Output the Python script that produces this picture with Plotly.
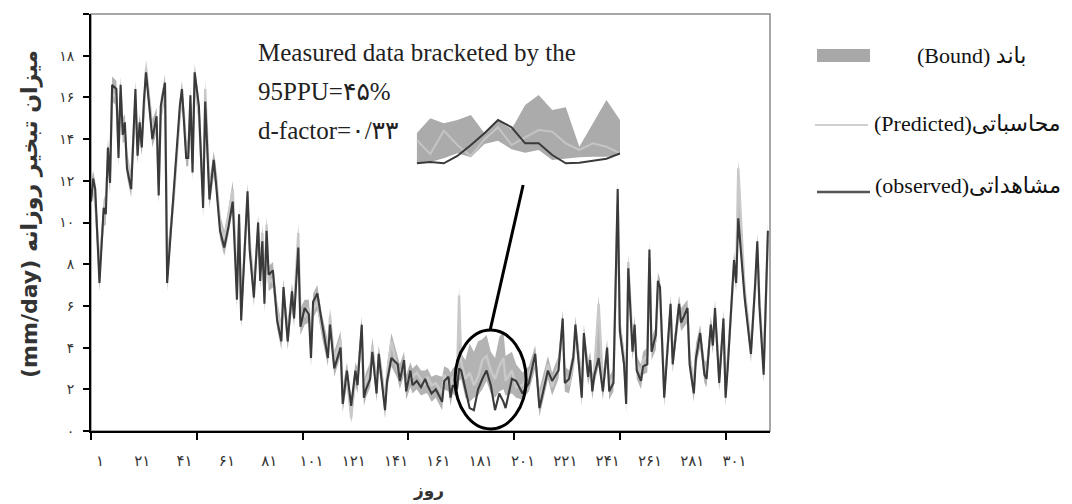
import plotly.graph_objects as go

# ---------------- data ----------------
days = [1, 2, 3, 5, 7, 8, 9, 10, 11, 13,
        14, 15, 16, 17, 18, 20, 22, 23, 24, 25,
        26, 27, 29, 30, 32, 33, 34, 36, 37, 40,
        43, 44, 45, 46, 47, 48, 49, 50, 52, 54,
        55, 56, 57, 59, 60, 62, 64, 66, 68, 70,
        71, 72, 75, 76, 78, 80, 81, 82, 83, 84,
        85, 87, 89, 91, 92, 94, 96, 97, 99, 100,
        102, 104, 105, 106, 108, 110, 113, 114, 116, 119,
        120, 122, 124, 126, 127, 129, 130, 131, 133, 134,
        136, 137, 138, 140, 141, 143, 146, 147, 149, 150,
        152, 153, 155, 157, 159, 160, 162, 164, 167, 168,
        170, 171, 172, 174, 175, 176, 178, 180, 182, 184,
        186, 188, 190, 192, 194, 196, 197, 200, 202, 205,
        208, 211, 213, 216, 217, 219, 222, 224, 225, 227,
        229, 230, 232, 233, 234, 236, 237, 238, 239, 241,
        243, 245, 246, 248, 250, 251, 253, 254, 255, 257,
        258, 259, 261, 262, 264, 265, 266, 268, 269, 270,
        272, 275, 276, 279, 280, 283, 284, 286, 287, 289,
        291, 292, 294, 295, 296, 297, 298, 300, 301, 302,
        305, 306, 307, 310, 313, 315, 316, 317, 319, 321]

observed = [11.0, 12.1, 11.6, 7.1, 10.7, 10.4, 13.6, 11.9, 16.6, 16.4,
            13.1, 16.6, 14.2, 14.8, 12.6, 11.6, 16.4, 13.2, 14.8, 13.6,
            15.8, 17.2, 15.1, 14.0, 15.1, 11.3, 15.6, 16.7, 7.1, 11.3,
            15.6, 16.4, 14.8, 13.1, 13.1, 16.1, 12.4, 17.2, 15.6, 10.7,
            15.8, 13.5, 11.1, 13.0, 12.0, 9.6, 8.8, 9.8, 11.0, 6.3,
            10.4, 5.3, 11.5, 8.7, 6.4, 10.0, 7.2, 9.1, 6.1, 9.6,
            7.5, 7.7, 5.3, 4.3, 6.9, 4.3, 6.7, 5.4, 8.8, 5.0,
            5.9, 5.6, 3.5, 6.2, 6.6, 5.3, 3.5, 5.1, 3.0, 4.0,
            1.3, 2.9, 1.2, 2.9, 2.2, 5.1, 1.6, 2.0, 2.5, 3.8,
            1.8, 3.7, 2.8, 1.0, 2.4, 3.5, 3.2, 2.4, 3.4, 1.9,
            2.9, 2.2, 2.4, 2.1, 2.5, 2.2, 1.8, 2.0, 1.4, 2.4,
            2.6, 1.6, 2.2, 2.0, 3.0, 2.9, 2.0, 1.1, 1.0, 2.0,
            2.5, 2.9, 2.2, 1.0, 1.8, 1.4, 1.1, 2.5, 2.4, 1.8,
            2.3, 3.7, 1.1, 2.4, 2.9, 2.4, 2.9, 5.4, 2.3, 2.5,
            3.5, 5.1, 2.9, 1.6, 4.7, 2.6, 3.4, 1.9, 2.7, 3.5,
            1.9, 4.0, 1.9, 2.3, 11.6, 4.8, 3.2, 1.3, 7.8, 3.8,
            5.1, 2.9, 2.4, 3.1, 3.2, 8.7, 3.8, 4.6, 7.2, 6.9,
            1.6, 6.1, 3.2, 6.1, 5.2, 5.9, 3.2, 1.8, 3.5, 4.7,
            2.7, 2.5, 5.1, 4.1, 5.9, 3.9, 2.3, 5.4, 1.6, 3.0,
            8.2, 7.1, 10.2, 6.4, 3.7, 7.1, 9.1, 6.0, 2.7, 9.6]

predicted = [11.5, 11.8, 10.9, 8.0, 10.2, 11.0, 13.0, 12.4, 16.2, 16.0,
             13.6, 16.2, 14.6, 14.3, 13.0, 12.0, 15.9, 13.7, 14.4, 14.0,
             15.3, 17.4, 15.5, 14.5, 14.7, 11.8, 15.2, 16.3, 8.0, 11.0,
             15.2, 16.0, 15.1, 13.5, 13.5, 15.7, 12.9, 16.8, 15.2, 11.2,
             16.4, 13.9, 11.6, 12.6, 12.4, 10.0, 9.2, 10.3, 11.6, 6.8,
             10.0, 5.9, 11.0, 9.1, 6.9, 9.6, 7.7, 9.5, 6.6, 9.9,
             7.1, 7.3, 5.8, 4.8, 6.5, 4.8, 6.3, 5.9, 9.5, 5.5,
             5.5, 5.9, 4.0, 5.8, 6.2, 5.0, 3.9, 5.5, 3.4, 4.4,
             1.7, 2.6, 0.6, 2.6, 2.6, 4.7, 2.0, 2.4, 2.9, 4.1,
             2.2, 3.4, 3.1, 1.4, 2.8, 4.3, 2.9, 2.8, 3.1, 2.3,
             2.6, 2.6, 2.8, 2.5, 2.2, 2.6, 2.2, 2.3, 1.8, 2.7,
             2.3, 2.0, 2.6, 2.4, 6.5, 3.3, 2.5, 2.8, 2.2, 2.6,
             3.4, 3.6, 2.9, 2.5, 3.1, 3.5, 2.4, 2.9, 2.1, 2.2,
             2.7, 3.4, 1.5, 2.7, 3.2, 2.1, 3.2, 5.0, 2.7, 2.2,
             3.2, 4.7, 3.3, 2.0, 4.4, 3.0, 3.1, 2.3, 3.0, 6.1,
             2.3, 3.7, 2.2, 2.6, 10.9, 5.1, 3.5, 1.7, 8.1, 4.2,
             4.8, 3.2, 2.8, 3.4, 3.6, 8.3, 4.1, 4.3, 6.8, 6.5,
             2.0, 5.8, 3.5, 5.8, 5.5, 5.6, 3.5, 2.2, 3.8, 4.4,
             3.0, 2.9, 4.8, 4.4, 5.6, 4.2, 2.6, 5.1, 2.0, 3.3,
             7.9, 7.4, 12.6, 6.8, 4.0, 6.8, 8.8, 6.3, 3.0, 9.2]

band_low = [10.6, 11.4, 10.5, 6.7, 9.8, 9.9, 12.6, 11.4, 15.8, 15.6,
            12.7, 15.8, 13.8, 13.9, 12.2, 11.2, 15.5, 12.8, 14.0, 13.2,
            14.9, 16.8, 14.7, 13.6, 14.3, 10.9, 14.8, 15.9, 6.7, 10.6,
            14.8, 15.6, 14.4, 12.7, 12.7, 15.3, 12.0, 16.4, 14.8, 10.3,
            15.0, 13.1, 10.7, 12.2, 11.6, 9.2, 8.4, 9.4, 10.6, 5.9,
            9.6, 4.9, 10.6, 8.3, 6.0, 9.2, 6.8, 8.7, 5.7, 9.2,
            6.7, 6.9, 4.9, 3.9, 6.1, 3.9, 5.9, 5.0, 8.4, 4.6,
            5.1, 5.2, 3.1, 5.4, 5.8, 4.6, 3.1, 4.7, 2.6, 3.6,
            0.9, 2.2, 0.4, 2.2, 1.8, 4.3, 1.2, 1.6, 2.1, 3.4,
            1.4, 3.0, 2.4, 0.6, 2.0, 3.1, 2.5, 2.0, 2.7, 1.5,
            2.1, 1.8, 2.0, 1.7, 1.8, 1.8, 1.4, 1.6, 1.0, 2.0,
            1.9, 1.2, 1.8, 1.6, 2.4, 2.5, 1.6, 1.4, 1.6, 1.7,
            2.0, 2.4, 1.8, 1.6, 1.9, 2.0, 1.7, 1.8, 1.6, 1.5,
            1.9, 3.0, 0.7, 2.0, 2.5, 1.7, 2.5, 4.6, 1.9, 1.8,
            2.8, 4.3, 2.5, 1.2, 4.0, 2.2, 2.7, 1.5, 2.3, 3.1,
            1.5, 3.3, 1.5, 1.9, 10.5, 4.4, 2.8, 0.9, 7.4, 3.4,
            4.4, 2.5, 2.0, 2.7, 2.8, 7.9, 3.4, 3.9, 6.4, 6.1,
            1.2, 5.4, 2.8, 5.4, 4.8, 5.2, 2.8, 1.4, 3.1, 4.0,
            2.3, 2.1, 4.4, 3.7, 5.2, 3.5, 1.9, 4.7, 1.2, 2.6,
            7.5, 6.7, 9.8, 6.0, 3.3, 6.4, 8.4, 5.6, 2.3, 8.8]

band_high = [11.9, 12.5, 12.0, 8.4, 11.1, 11.4, 14.0, 12.8, 17.0, 16.8,
             14.0, 17.0, 15.0, 15.2, 13.4, 12.4, 16.8, 14.1, 15.2, 14.4,
             16.2, 17.8, 15.9, 14.9, 15.5, 12.2, 16.0, 17.1, 8.4, 11.7,
             16.0, 16.8, 15.5, 13.9, 13.9, 16.5, 13.3, 17.6, 16.0, 11.6,
             16.8, 14.3, 12.0, 13.4, 12.8, 10.4, 9.6, 10.7, 12.0, 7.2,
             10.8, 6.3, 11.9, 9.5, 7.3, 10.4, 8.1, 9.9, 7.0, 10.3,
             7.9, 8.1, 6.2, 5.2, 7.3, 5.2, 7.1, 6.3, 9.9, 5.9,
             6.3, 6.3, 4.4, 6.6, 7.0, 5.7, 4.3, 5.9, 3.8, 4.8,
             2.1, 3.3, 1.6, 3.3, 3.0, 5.5, 2.4, 2.8, 3.3, 4.5,
             2.6, 4.1, 3.5, 1.8, 3.2, 4.7, 3.6, 3.2, 3.8, 2.7,
             3.3, 3.0, 3.2, 2.9, 2.9, 3.0, 2.6, 2.7, 2.6, 3.1,
             3.0, 2.8, 3.0, 3.2, 6.9, 3.7, 3.4, 4.2, 3.8, 4.3,
             4.4, 4.6, 3.8, 3.5, 4.5, 4.8, 3.6, 3.8, 3.2, 2.8,
             3.1, 4.1, 2.0, 3.1, 3.6, 2.8, 3.6, 5.8, 3.1, 2.9,
             3.9, 5.5, 3.7, 2.4, 5.1, 3.4, 3.8, 2.7, 3.4, 6.5,
             2.7, 4.4, 2.6, 3.0, 12.0, 5.5, 3.9, 2.1, 8.5, 4.6,
             5.5, 3.6, 3.2, 3.8, 4.0, 9.1, 4.5, 5.0, 7.6, 7.3,
             2.4, 6.5, 3.9, 6.5, 5.9, 6.3, 3.9, 2.6, 4.2, 5.1,
             3.4, 3.3, 5.5, 4.8, 6.3, 4.6, 3.0, 5.8, 2.4, 3.7,
             8.6, 7.8, 13.0, 7.2, 4.4, 7.5, 9.5, 6.7, 3.4, 10.0]

# inset (magnified view of the circled region)
inset_idx = [0, 1, 2, 3, 4, 5, 6, 7, 8, 9, 10, 11, 12, 13, 14, 15]
inset_high = [5.5, 7.75, 7.0, 7.5, 8.25, 5.5, 7.4, 6.1, 9.75, 11.25, 9.0, 9.4, 3.5, 7.0, 10.5, 7.5]
inset_low = [1.0, 1.2, 1.75, 2.5, 1.9, 3.9, 4.4, 3.1, 2.6, 3.0, 1.5, 1.75, 1.9, 2.0, 2.0, 2.25]
inset_pred = [4.5, 2.4, 5.9, 3.75, 2.1, 4.6, 6.4, 3.75, 4.9, 6.0, 5.75, 4.0, 3.0, 4.0, 3.5, 2.5]
inset_obs = [1.0, 1.2, 1.0, 2.1, 3.75, 5.5, 7.5, 6.4, 4.0, 4.0, 2.25, 1.0, 1.1, 1.4, 1.7, 2.5]

x_tick_vals = [1, 21, 41, 61, 81, 101, 121, 141, 161, 181, 201, 221, 241, 261, 281, 301]
x_tick_text = ["۱", "۲۱", "۴۱", "۶۱", "۸۱", "۱۰۱", "۱۲۱", "۱۴۱", "۱۶۱", "۱۸۱",
               "۲۰۱", "۲۲۱", "۲۴۱", "۲۶۱", "۲۸۱", "۳۰۱"]
x_mark_vals = [1, 51, 101, 151, 201, 251, 301]
y_tick_vals = [0, 2, 4, 6, 8, 10, 12, 14, 16, 18, 20]
y_tick_text = ["۰", "۲", "۴", "۶", "۸", "۱۰", "۱۲", "۱۴", "۱۶", "۱۸", "۲۰"]

BAND = "#b3b3b3"
PRED = "#c9c9c9"
OBS = "#3a3a3a"
SERIF = "Liberation Serif, DejaVu Serif, DejaVu Sans"
SANS = "DejaVu Sans, Noto Sans"

fig = go.Figure()
fig.add_trace(go.Scatter(x=days, y=band_low, mode="lines", line=dict(width=0),
                         hoverinfo="skip", showlegend=False))
fig.add_trace(go.Scatter(x=days, y=band_high, mode="lines", line=dict(width=0),
                         fill="tonexty", fillcolor=BAND, showlegend=False))
fig.add_trace(go.Scatter(x=days, y=predicted, mode="lines",
                         line=dict(color=PRED, width=2.4), showlegend=False))
fig.add_trace(go.Scatter(x=days, y=observed, mode="lines",
                         line=dict(color=OBS, width=2.1), showlegend=False))

# inset
fig.add_trace(go.Scatter(x=inset_idx, y=inset_low, mode="lines", line=dict(width=0),
                         xaxis="x2", yaxis="y2", showlegend=False))
fig.add_trace(go.Scatter(x=inset_idx, y=inset_high, mode="lines", line=dict(width=0),
                         fill="tonexty", fillcolor="#ababab",
                         xaxis="x2", yaxis="y2", showlegend=False))
fig.add_trace(go.Scatter(x=inset_idx, y=inset_pred, mode="lines",
                         line=dict(color="#c4c4c4", width=2),
                         xaxis="x2", yaxis="y2", showlegend=False))
fig.add_trace(go.Scatter(x=inset_idx, y=inset_obs, mode="lines",
                         line=dict(color="#3a3a3a", width=2),
                         xaxis="x2", yaxis="y2", showlegend=False))

# the page puts the figure 8px in from the top-left corner; compensate
OFF = 8
W, H = 1072, 504
PL, PR, PT, PB = 91, 770, 14, 431          # plot-area edges in screen pixels
L, T = PL - OFF, PT - OFF
R, B = W - (PR - OFF), H - (PB - OFF)
pw, ph = PR - PL, PB - PT


def px(x):
    return (x - PL) / pw


def py(y):
    return (PB - y) / ph


fig.update_layout(
    width=W, height=H,
    margin=dict(l=L, r=R, t=T, b=B, autoexpand=False),
    paper_bgcolor="white", plot_bgcolor="white",
    showlegend=False,
    xaxis=dict(range=[1, 322], tickmode="array", tickvals=x_tick_vals, ticktext=x_tick_text,
               ticks="", showgrid=False, zeroline=False, automargin=False,
               showline=True, linecolor="black", linewidth=2,
               tickfont=dict(family=SANS, size=15, color="#333"),
               ticklabelshift=9, ticklabelstandoff=15,
               minor=dict(tickmode="array", tickvals=x_mark_vals, ticks="outside",
                          ticklen=7, tickwidth=2, tickcolor="black", showgrid=False)),
    yaxis=dict(range=[0, 20], tickmode="array", tickvals=y_tick_vals, ticktext=y_tick_text,
               ticks="outside", ticklen=6, tickwidth=1.5, tickcolor="black",
               showgrid=False, zeroline=False, automargin=False,
               showline=True, linecolor="black", linewidth=2,
               tickfont=dict(family=SANS, size=14, color="#333"),
               ticklabelstandoff=6),
    xaxis2=dict(domain=[px(416.7), px(620)], anchor="y2", range=[0, 15], visible=False),
    yaxis2=dict(domain=[py(170), py(90)], anchor="x2", range=[0, 12], visible=False),
)

# plot frame (top/right borders)
fig.add_shape(type="rect", xref="paper", yref="paper", x0=0, x1=1, y0=0, y1=1,
              line=dict(color="#8a8a8a", width=1.5), layer="below")

# circle around the magnified region and the pointer line
fig.add_shape(type="circle", xref="x", yref="y", x0=173.1, x1=206.7, y0=0.1, y1=4.84,
              line=dict(color="black", width=3))
fig.add_shape(type="line", xref="x", yref="y", x0=205.3, y0=11.8, x1=189.7, y1=4.84,
              line=dict(color="black", width=3))

# annotation texts
for txt, yy in [("Measured data bracketed by the", 53),
                ("95PPU=۴۵%", 92),
                ("d-factor=۰/۳۳", 130)]:
    fig.add_annotation(xref="paper", yref="paper", x=px(256), y=py(yy), text=txt,
                       showarrow=False, xanchor="left", yanchor="middle",
                       font=dict(family=SERIF, size=25, color="#222"))

# axis titles
fig.add_annotation(xref="paper", yref="paper", x=px(30), y=py(214),
                   text="<b>(mm/day) میزان تبخیر روزانه</b>", textangle=-90,
                   showarrow=False, xanchor="center", yanchor="middle",
                   font=dict(family=SANS, size=22, color="#333"))
fig.add_annotation(xref="paper", yref="paper", x=px(428), y=py(490),
                   text="<b>روز</b>", showarrow=False, xanchor="center", yanchor="middle",
                   font=dict(family=SANS, size=17, color="#333"))

# manual legend
fig.add_shape(type="rect", xref="paper", yref="paper", x0=px(817), x1=px(870),
              y0=py(62), y1=py(49), fillcolor="#a8a8a8", line=dict(width=0))
fig.add_shape(type="line", xref="paper", yref="paper", x0=px(815), x1=px(868),
              y0=py(125), y1=py(125), line=dict(color="#d0d0d0", width=2))
fig.add_shape(type="line", xref="paper", yref="paper", x0=px(817), x1=px(870),
              y0=py(192), y1=py(192), line=dict(color="#555", width=2.5))
for txt, xx, yy in [("(Bound) باند", 915, 55),
                    ("(Predicted)محاسباتی", 872, 123),
                    ("(observed)مشاهداتی", 873, 185)]:
    fig.add_annotation(xref="paper", yref="paper", x=px(xx), y=py(yy), text=txt,
                       showarrow=False, xanchor="left", yanchor="middle",
                       font=dict(family=SERIF, size=22, color="#111"))

fig.write_html("out.html")
